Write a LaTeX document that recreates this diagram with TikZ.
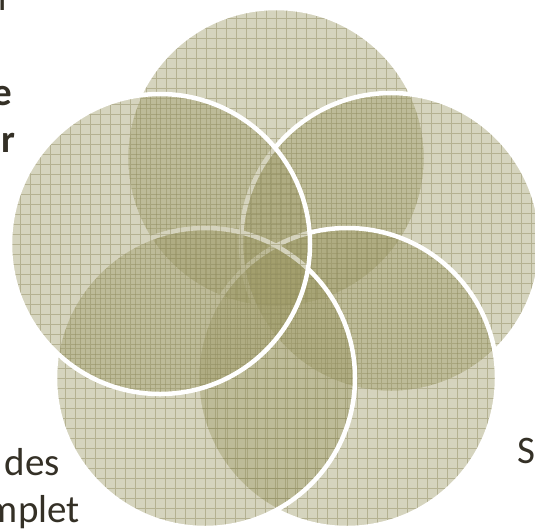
\documentclass[tikz,border=0pt]{standalone}
\usepackage{fontspec}
\setmainfont{Carlito}
\definecolor{olivefill}{RGB}{156,152,100}
\definecolor{olivegrid}{RGB}{140,136,92}
\definecolor{txt}{RGB}{52,48,38}
\tikzset{
  vennfill/.style={fill=olivefill, fill opacity=0.42},
  venngrid/.style={draw=olivegrid, draw opacity=0.45, line width=0.9pt},
  vennedge/.style={draw=white, line width=4.5pt},
  lbl/.style={inner sep=0pt, text=txt, font=\fontsize{39}{48}\selectfont},
  lblb/.style={lbl, font=\fontsize{39}{48}\selectfont\bfseries},
}
\newcommand{\venncircle}[1]{%
  \fill[vennfill] (#1) circle (150);
  \begin{scope}
    \clip (#1) circle (150);
    \draw[venngrid, shift={(#1)}] (-155,-155) grid[step=10pt] (155,155);
  \end{scope}
  \draw[vennedge] (#1) circle (150);
}
\begin{document}
\begin{tikzpicture}[x=1pt,y=-1pt]
\useasboundingbox (0,0) rectangle (535,531);
\clip (0,0) rectangle (535,531);
\coordinate (T) at (276,158);
\coordinate (UR) at (391,243);
\coordinate (LR) at (347,378);
\coordinate (LL) at (205,378);
\coordinate (UL) at (160,244);
\venncircle{T}
\venncircle{UR}
\venncircle{LR}
\venncircle{LL}
\venncircle{UL}
\node[lbl, anchor=base west] (t1) at (-2,10) {r};
\node[lblb, anchor=base east] (t2) at (12.5,105) {e};
\node[lblb, anchor=base east] (t3) at (15.5,152) {r};
\node[lbl, anchor=base east] (t4) at (60,475) {des};
\node[lbl, anchor=base east] (t5) at (80,522) {mplet};
\node[lbl, anchor=base west] (t6) at (517,463) {S};
\end{tikzpicture}
\end{document}
